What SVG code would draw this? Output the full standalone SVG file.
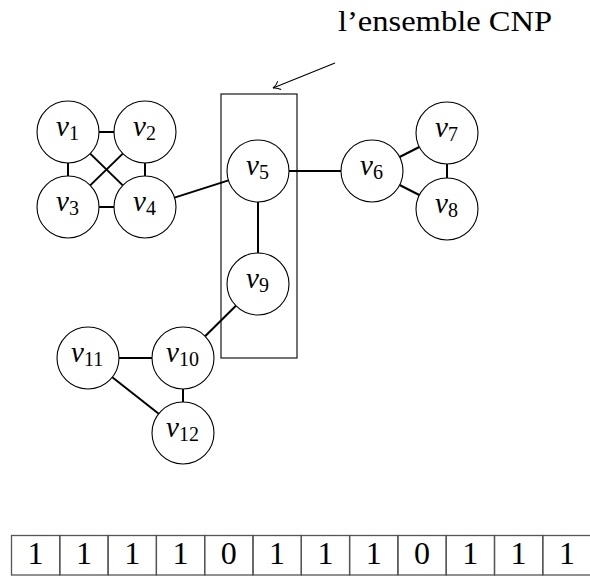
<svg xmlns="http://www.w3.org/2000/svg" width="590" height="576" viewBox="0 0 590 576">
<style>
.node circle{fill:#fff;stroke:#000;stroke-width:1.1}
.v{font-family:"Liberation Serif",serif;font-style:italic;font-size:29px;fill:#000}
.s{font-family:"Liberation Serif",serif;font-style:normal;font-size:20px}
#edges line{stroke:#000;stroke-width:2}
.cell{fill:none;stroke:#555;stroke-width:1.3}
.d{font-family:"Liberation Serif",serif;font-size:32px;text-anchor:middle;fill:#000}
.title{font-family:"Liberation Serif",serif;font-size:30px;fill:#000}
</style>
<defs>
<marker id="arr" markerWidth="12" markerHeight="12" refX="9" refY="6" orient="auto" markerUnits="userSpaceOnUse">
<path d="M2,1.5 Q5,5 9,6 Q5,7 2,10.5" fill="none" stroke="#000" stroke-width="1"/>
</marker>
</defs>
<rect width="590" height="576" fill="#fff"/>
<text class="title" x="338" y="31" textLength="214" lengthAdjust="spacingAndGlyphs">l’ensemble CNP</text>
<g id="cnp-box">
<rect x="221" y="94" width="76" height="264" fill="none" stroke="#000" stroke-width="1.1"/>
<line x1="335" y1="63" x2="273" y2="88" stroke="#000" stroke-width="1.1" marker-end="url(#arr)"/>
</g>
<g id="edges">
<line x1="99" y1="132" x2="114" y2="132"/>
<line x1="99" y1="207" x2="114" y2="207"/>
<line x1="68" y1="163" x2="68" y2="176"/>
<line x1="145" y1="163" x2="145" y2="176"/>
<line x1="90.2" y1="153.6" x2="122.8" y2="185.4"/>
<line x1="122.8" y1="153.6" x2="90.2" y2="185.4"/>
<line x1="174.5" y1="197.6" x2="228.5" y2="180.4"/>
<line x1="289" y1="171" x2="341" y2="171"/>
<line x1="399.6" y1="157" x2="419.3" y2="147"/>
<line x1="399.6" y1="185" x2="419.3" y2="195"/>
<line x1="447" y1="164" x2="447" y2="178"/>
<line x1="258" y1="202" x2="258" y2="253"/>
<line x1="235.9" y1="305.8" x2="205.1" y2="336.2"/>
<line x1="119" y1="358" x2="152" y2="358"/>
<line x1="183" y1="389" x2="183" y2="402"/>
<line x1="112.3" y1="377.2" x2="158.7" y2="413.8"/>
</g>
<g id="v1" class="node"><circle cx="68" cy="132" r="31"/><text class="v" x="56" y="136">v<tspan class="s" dy="4">1</tspan></text></g>
<g id="v2" class="node"><circle cx="145" cy="132" r="31"/><text class="v" x="133" y="136">v<tspan class="s" dy="4">2</tspan></text></g>
<g id="v3" class="node"><circle cx="68" cy="207" r="31"/><text class="v" x="56" y="211">v<tspan class="s" dy="4">3</tspan></text></g>
<g id="v4" class="node"><circle cx="145" cy="207" r="31"/><text class="v" x="133" y="211">v<tspan class="s" dy="4">4</tspan></text></g>
<g id="v5" class="node"><circle cx="258" cy="171" r="31"/><text class="v" x="246" y="175">v<tspan class="s" dy="4">5</tspan></text></g>
<g id="v6" class="node"><circle cx="372" cy="171" r="31"/><text class="v" x="360" y="175">v<tspan class="s" dy="4">6</tspan></text></g>
<g id="v7" class="node"><circle cx="447" cy="133" r="31"/><text class="v" x="435" y="137">v<tspan class="s" dy="4">7</tspan></text></g>
<g id="v8" class="node"><circle cx="447" cy="209" r="31"/><text class="v" x="435" y="213">v<tspan class="s" dy="4">8</tspan></text></g>
<g id="v9" class="node"><circle cx="258" cy="284" r="31"/><text class="v" x="246" y="288">v<tspan class="s" dy="4">9</tspan></text></g>
<g id="v10" class="node"><circle cx="183" cy="358" r="31"/><text class="v" x="166" y="362">v<tspan class="s" dy="4">10</tspan></text></g>
<g id="v11" class="node"><circle cx="88" cy="358" r="31"/><text class="v" x="71" y="362">v<tspan class="s" dy="4">11</tspan></text></g>
<g id="v12" class="node"><circle cx="183" cy="433" r="31"/><text class="v" x="166" y="437">v<tspan class="s" dy="4">12</tspan></text></g>
<g id="table">
<rect class="cell" x="11.5" y="535.5" width="48.3" height="39.5"/>
<rect class="cell" x="59.8" y="535.5" width="48.3" height="39.5"/>
<rect class="cell" x="108.1" y="535.5" width="48.3" height="39.5"/>
<rect class="cell" x="156.4" y="535.5" width="48.3" height="39.5"/>
<rect class="cell" x="204.7" y="535.5" width="48.3" height="39.5"/>
<rect class="cell" x="253" y="535.5" width="48.3" height="39.5"/>
<rect class="cell" x="301.3" y="535.5" width="48.3" height="39.5"/>
<rect class="cell" x="349.6" y="535.5" width="48.3" height="39.5"/>
<rect class="cell" x="397.9" y="535.5" width="48.3" height="39.5"/>
<rect class="cell" x="446.2" y="535.5" width="48.3" height="39.5"/>
<rect class="cell" x="494.5" y="535.5" width="48.3" height="39.5"/>
<rect class="cell" x="542.8" y="535.5" width="48.3" height="39.5"/>
<text class="d" x="35.6" y="564">1</text>
<text class="d" x="83.9" y="564">1</text>
<text class="d" x="132.2" y="564">1</text>
<text class="d" x="180.5" y="564">1</text>
<text class="d" x="228.8" y="564">0</text>
<text class="d" x="277.1" y="564">1</text>
<text class="d" x="325.4" y="564">1</text>
<text class="d" x="373.7" y="564">1</text>
<text class="d" x="422" y="564">0</text>
<text class="d" x="470.3" y="564">1</text>
<text class="d" x="518.6" y="564">1</text>
<text class="d" x="566.9" y="564">1</text>
</g>
</svg>
